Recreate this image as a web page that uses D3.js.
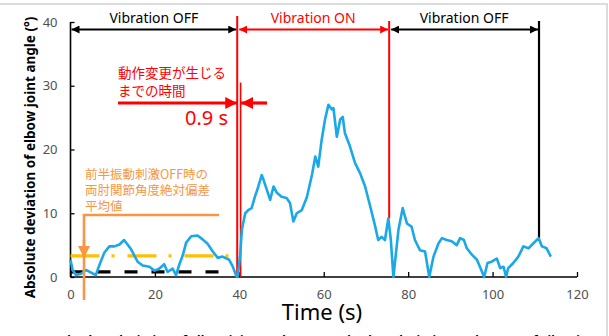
<!DOCTYPE html>
<html>
<head>
<meta charset="utf-8">
<script src="https://cdn.jsdelivr.net/npm/d3@7"></script>
<style>
  body { margin: 0; background: #fff; }
  svg { display: block; font-family: "Noto Sans", "Noto Sans CJK JP", sans-serif; }
  .jp { font-family: "Noto Sans CJK JP", sans-serif; }
</style>
</head>
<body>
<div id="chart"></div>
<script>
// time (s) and absolute deviation (deg)
const timeS = [0, 0.5, 1.3, 2.5, 3.7, 4.9, 6.0, 6.8, 8.0, 9.2, 10.4, 11.6, 12.7, 13.3, 14.3, 15.1, 15.9, 17.1, 18.7, 19.9,
  21.0, 22.2, 23.0, 24.2, 25.0, 25.8, 26.6, 27.4, 28.6, 30.1, 31.3, 32.5, 33.7, 34.9, 36.0, 37.6, 38.4, 39.3, 39.6, 40.2,
  40.6, 41.4, 42.1, 42.9, 43.7, 44.5, 45.3, 45.7, 46.5, 47.3, 48.1, 48.9, 50.0, 51.2, 52.0, 52.8, 53.6, 54.8, 56.0, 57.2,
  58.0, 58.7, 59.5, 60.3, 61.1, 61.9, 62.3, 63.1, 63.9, 64.5, 65.0, 66.2, 67.4, 68.6, 69.8, 71.0, 72.2, 72.9, 73.7, 74.5,
  75.3, 75.9, 76.5, 77.7, 78.7, 79.7, 80.8, 81.6, 82.8, 84.0, 85.0, 86.0, 87.2, 88.0, 89.1, 90.3, 91.5, 92.3, 93.2, 93.9,
  95.1, 96.3, 97.0, 98.0, 98.8, 99.8, 101.0, 101.8, 102.6, 103.2, 103.7, 104.9, 106.1, 107.3, 108.5, 109.7, 110.9, 111.7,
  112.8, 113.8];
const deviation = [2.7, 1.1, 0.3, 0.5, 1.1, 0.7, 0.3, 1.8, 3.8, 4.8, 4.8, 5.1, 5.8, 5.3, 4.4, 3.4, 2.4, 1.8, 1.6, 1.0,
  1.3, 2.0, 0.8, 1.3, 0.3, 2.0, 3.4, 5.4, 6.4, 6.5, 5.9, 5.2, 4.0, 3.0, 3.2, 2.7, 1.7, 0.1, 0.0, 3.5,
  7.4, 10.0, 10.5, 10.8, 12.6, 14.2, 16.0, 15.3, 13.7, 12.1, 14.2, 13.2, 12.6, 12.4, 11.6, 8.7, 10.0, 10.5, 12.5, 16.0,
  18.9, 17.3, 21.5, 24.7, 27.0, 26.3, 26.5, 22.0, 24.7, 25.1, 22.6, 20.5, 17.9, 16.3, 14.2, 11.1, 7.9, 5.8, 6.3, 5.8,
  9.2, 5.8, 0.0, 7.4, 10.8, 8.4, 7.9, 5.8, 4.2, 4.0, 0.0, 3.2, 5.3, 6.1, 5.8, 5.6, 5.0, 6.1, 5.8, 4.5,
  3.5, 2.7, 1.6, 0.0, 2.2, 2.4, 2.9, 1.4, 1.6, 0.0, 1.4, 2.2, 3.2, 4.8, 4.5, 5.3, 6.1, 4.8,
  4.5, 3.2];

const phaseLabels = ["Vibration OFF", "Vibration ON", "Vibration OFF"];
const phaseStart = [0, 39.5, 75.5];
const phaseEnd = [39.5, 75.5, 111];
const phaseColors = ["#000", "#ff0000", "#000"];
const changeTime = 40.3;      // motion change, 0.9 s after vibration on
const meanOffDeviation = 3.3; // yellow mean line
const meanBlackLine = 0.8;    // black dashed line
const xTicks = [0, 20, 40, 60, 80, 100, 120];
const yTicks = [0, 10, 20, 30, 40];

const W = 609, H = 336;
const svg = d3.select("#chart").append("svg").attr("width", W).attr("height", H);

// frame of the figure
svg.append("path").attr("d", "M0,4H607V336").attr("fill", "none").attr("stroke", "#dcdcdc").attr("stroke-width", 2);

const x = d3.scaleLinear().domain([0, 120]).range([70.5, 577]);
const y = d3.scaleLinear().domain([0, 40]).range([277, 22]);

// markers
const defs = svg.append("defs");
function marker(id, color, size) {
  defs.append("marker").attr("id", id).attr("viewBox", "0 0 10 10")
    .attr("refX", 10).attr("refY", 5).attr("markerWidth", size).attr("markerHeight", size)
    .attr("markerUnits", "userSpaceOnUse").attr("orient", "auto-start-reverse")
    .append("path").attr("d", "M0,0L10,5L0,10Z").attr("fill", color);
}
marker("arrBlack", "#000", 8);
marker("arrRed", "#ff0000", 8);
marker("arrRedBig", "#ff0000", 12);
marker("arrOrange", "#f79646", 12);

// axes
const xAxis = d3.axisBottom(x).tickValues(xTicks).tickSizeInner(-5).tickSizeOuter(0).tickPadding(13);
const yAxis = d3.axisLeft(y).tickValues(yTicks).tickSizeInner(-4).tickSizeOuter(0).tickPadding(13);

const gx = svg.append("g").attr("transform", `translate(0,${y(0)})`).call(xAxis);
const gy = svg.append("g").attr("transform", `translate(${x(0)},0)`).call(yAxis);
[gx, gy].forEach(g => {
  g.select(".domain").attr("stroke", "#000").attr("stroke-width", 1.6);
  g.selectAll(".tick line").attr("stroke", "#000").attr("stroke-width", 1.3);
  g.selectAll(".tick text").attr("fill", "#505050").style("font-size", "13px").style("font-family", "Noto Sans");
});
gx.select(".domain").attr("d", `M${x(0)},0H${x(120)}`);
gy.select(".domain").attr("d", `M0,${y(0)}V${y(40)}`);

// axis titles
svg.append("text").attr("x", 322).attr("y", 320).attr("text-anchor", "middle")
  .style("font-size", "22px").attr("fill", "#000").text("Time (s)");
svg.append("text").attr("transform", `translate(35,${(y(20) + 8)}) rotate(-90)`).attr("text-anchor", "middle")
  .style("font-size", "13.5px").style("font-weight", "bold").attr("fill", "#000")
  .text("Absolute deviation of elbow joint angle (°)");

// captions cut off at the bottom edge
svg.append("text").attr("x", 176).attr("y", 345).attr("text-anchor", "middle")
  .style("font-size", "12px").style("font-weight", "bold").text("Absolute deviation of elbow joint angle");
svg.append("text").attr("x", 467).attr("y", 345).attr("text-anchor", "middle")
  .style("font-size", "12px").style("font-weight", "bold").text("Absolute deviation at the start of vibration");

// mean lines
svg.append("line").attr("x1", x(0)).attr("x2", x(38.5)).attr("y1", y(meanOffDeviation)).attr("y2", y(meanOffDeviation))
  .attr("stroke", "#ffc000").attr("stroke-width", 3.2).attr("stroke-dasharray", "29,12,3,13");
svg.append("line").attr("x1", x(0)).attr("x2", x(35.2)).attr("y1", y(meanBlackLine)).attr("y2", y(meanBlackLine))
  .attr("stroke", "#000").attr("stroke-width", 3.2).attr("stroke-dasharray", "13,14");

// phase boundaries
const topY = 16;
svg.append("line").attr("x1", x(phaseStart[1])).attr("x2", x(phaseStart[1])).attr("y1", topY).attr("y2", y(0))
  .attr("stroke", "#ff0000").attr("stroke-width", 2);
svg.append("line").attr("x1", x(changeTime)).attr("x2", x(changeTime)).attr("y1", y(30.5)).attr("y2", y(0))
  .attr("stroke", "#ff0000").attr("stroke-width", 1.6);
svg.append("line").attr("x1", x(phaseEnd[1])).attr("x2", x(phaseEnd[1])).attr("y1", 21).attr("y2", y(9.2))
  .attr("stroke", "#ff0000").attr("stroke-width", 2);
svg.append("line").attr("x1", x(phaseEnd[2])).attr("x2", x(phaseEnd[2])).attr("y1", 21).attr("y2", y(6.1))
  .attr("stroke", "#000").attr("stroke-width", 2.2);

// phase arrows + labels
const arrowY = 29.5;
phaseLabels.forEach((lab, i) => {
  const a = x(phaseStart[i]) + (i === 0 ? 1 : 2), b = x(phaseEnd[i]) - 1;
  const mk = phaseColors[i] === "#000" ? "arrBlack" : "arrRed";
  svg.append("line").attr("x1", a).attr("x2", b).attr("y1", arrowY).attr("y2", arrowY)
    .attr("stroke", phaseColors[i]).attr("stroke-width", 2)
    .attr("marker-start", `url(#${mk})`).attr("marker-end", `url(#${mk})`);
  svg.append("text").attr("x", (x(phaseStart[i]) + x(phaseEnd[i])) / 2).attr("y", 23).attr("text-anchor", "middle")
    .style("font-size", "14px").attr("fill", phaseColors[i]).text(lab);
});

// the trace
const pts = timeS.map((t, i) => [t, deviation[i]]);
svg.append("path").datum(pts)
  .attr("fill", "none").attr("stroke", "#1aa8e8").attr("stroke-width", 2.6).attr("stroke-linejoin", "round")
  .attr("d", d3.line().x(d => x(d[0])).y(d => y(d[1])));

// red annotation: time until motion change
svg.append("line").attr("x1", 118).attr("x2", x(phaseStart[1])).attr("y1", 103).attr("y2", 103)
  .attr("stroke", "#ff0000").attr("stroke-width", 3.2).attr("marker-end", "url(#arrRedBig)");
svg.append("line").attr("x1", 267).attr("x2", x(changeTime) + 0.5).attr("y1", 103).attr("y2", 103)
  .attr("stroke", "#ff0000").attr("stroke-width", 3.2).attr("marker-end", "url(#arrRedBig)");
svg.append("text").attr("class", "jp").attr("x", 118).attr("y", 78).style("font-size", "13.5px").attr("fill", "#ff0000").text("動作変更が生じる");
svg.append("text").attr("class", "jp").attr("x", 118).attr("y", 96).style("font-size", "13.5px").attr("fill", "#ff0000").text("までの時間");
svg.append("text").attr("x", 228).attr("y", 125).attr("text-anchor", "end").style("font-size", "20px").attr("fill", "#ff0000").text("0.9 s");

// orange annotation: mean of first vibration-off period
const orange = "#f79646";
svg.append("path").attr("d", `M${x(35.2)},215H${x(3.2)}V300`).attr("fill", "none").attr("stroke", orange).attr("stroke-width", 2.6);
svg.append("line").attr("x1", x(3.2)).attr("x2", x(3.2)).attr("y1", 240).attr("y2", y(meanOffDeviation) + 2)
  .attr("stroke", orange).attr("stroke-width", 2.6).attr("marker-end", "url(#arrOrange)");
["前半振動刺激OFF時の", "両肘関節角度絶対偏差", "平均値"].forEach((s, i) => {
  svg.append("text").attr("class", "jp").attr("x", 85).attr("y", 179 + i * 16).style("font-size", "12.5px").attr("fill", orange).text(s);
});
</script>
</body>
</html>
